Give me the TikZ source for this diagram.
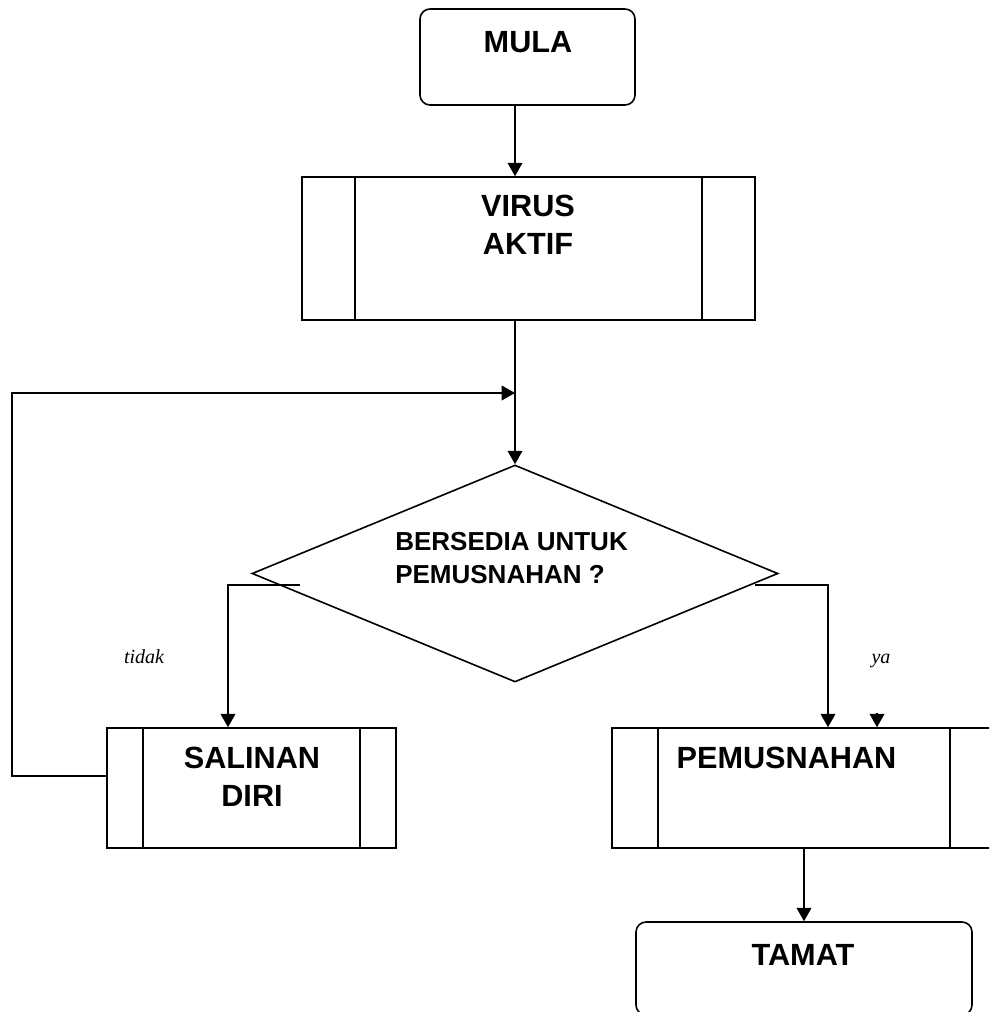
\documentclass[tikz,border=0pt]{standalone}
\usepackage{fontspec}
\setmainfont{Liberation Sans}
\newfontfamily\serifit{Liberation Serif}
\usepackage{tikz}
\usetikzlibrary{positioning}
\usetikzlibrary{shapes.geometric}
\usetikzlibrary{arrows.meta}
\tikzset{termnode/.style={shape=rectangle, rounded corners=7.5pt, draw=black, line width=1.2pt},
  procnode/.style={shape=rectangle, draw=black, line width=1.2pt,
    path picture={\draw[line width=0.9pt]
      ([xshift=#1]path picture bounding box.north west) -- ([xshift=#1]path picture bounding box.south west)
      ([xshift=-#1]path picture bounding box.north east) -- ([xshift=-#1]path picture bounding box.south east);}},
  decnode/.style={shape=diamond, draw=black, line width=1.2pt, inner sep=0pt},
  boxtext/.style={font=\fontsize{23}{28}\selectfont\bfseries, inner sep=0pt, align=center},
  dectext/.style={font=\fontsize{19.5}{25}\selectfont\bfseries, inner sep=0pt, align=left},
  branch/.style={font=\fontsize{15}{17}\selectfont\serifit\itshape, inner sep=0pt},
  flow/.style={line width=1.2pt, -{Triangle[length=10pt,width=11pt]}}}

\begin{document}
\begin{tikzpicture}[x=0.75pt, y=-0.75pt]
    \useasboundingbox (0,0) rectangle (989,1012);
    \clip (0,0) rectangle (989,1012);

    \node[termnode, minimum width=161.25pt, minimum height=72pt] (mula) at (527.5,57) {};
    \node[procnode=39.75pt, minimum width=339.75pt, minimum height=107.25pt] (virus) at (528.5,248.5) {};
    \node[decnode, minimum width=394.5pt, minimum height=162.75pt] (dia) at (515,573.5) {};
    \node[procnode=27pt, minimum width=216.75pt, minimum height=90pt] (salin) at (251.5,788) {};
    \node[procnode=34.5pt, minimum width=288pt, minimum height=90pt] (pemus) at (804,788) {};
    \node[termnode, minimum width=252pt, minimum height=69.75pt] (tamat) at (804,968.5) {};

    \node[boxtext, anchor=base] (mula-t) at (528,53) {MULA};
    \node[boxtext, anchor=north] (virus-t) at (528,195) {VIRUS\\AKTIF};
    \node[dectext, anchor=north west] (dia-t) at (395,532) {BERSEDIA UNTUK\\PEMUSNAHAN ?};
    \node[boxtext, anchor=north] (salin-t) at (252,747) {SALINAN\\DIRI};
    \node[boxtext, anchor=base] (pemus-t) at (786.5,768) {PEMUSNAHAN};
    \node[boxtext, anchor=base] (tamat-t) at (803,965) {TAMAT};
    \node[branch, anchor=base] (tidak) at (144,663) {tidak};
    \node[branch, anchor=base] (ya) at (881,663) {ya};

    \coordinate (join) at (515,393);
    \coordinate (loop) at (12,393);
    \coordinate (tl) at (300,585);
    \coordinate (lbend) at (228,585);
    \coordinate (tr) at (755,585);
    \coordinate (rbend) at (828,585);
    \coordinate (stray) at (877,713);

    \draw[flow] (dia.north |- mula.south) -- (dia.north |- virus.north);
    \draw[flow] (dia.north |- virus.south) -- (dia.north);
    \draw[flow] ([yshift=9pt]salin.west) -| (loop) -- (join);
    \draw[flow] (tl) -- (lbend) -- (lbend |- salin.north);
    \draw[flow] (tr) -- (rbend) -- (rbend |- pemus.north);
    \draw[flow] (stray) -- (stray |- pemus.north);
    \draw[flow] (pemus.south) -- (tamat.north);
  \end{tikzpicture}
\end{document}
